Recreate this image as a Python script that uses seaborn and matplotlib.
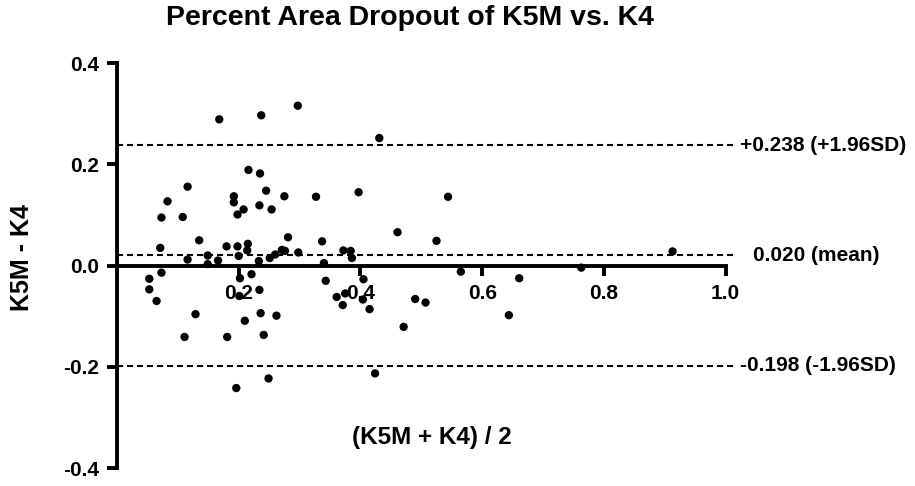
import numpy as np
import pandas as pd
import matplotlib
matplotlib.use("Agg")
import matplotlib.pyplot as plt
import seaborn as sns

# --- Daten ---
mean_k = [0.168, 0.237, 0.297, 0.216, 0.235, 0.116, 0.083, 0.073, 0.108, 0.192,
          0.192, 0.208, 0.198, 0.245, 0.234, 0.254, 0.275, 0.327, 0.135, 0.071,
          0.180, 0.198, 0.215, 0.214, 0.200, 0.281, 0.337, 0.251, 0.260, 0.271,
          0.276, 0.298, 0.116, 0.149, 0.149, 0.166, 0.233, 0.340, 0.053, 0.073,
          0.221, 0.202, 0.343, 0.053, 0.065, 0.234, 0.201, 0.129, 0.111, 0.181,
          0.210, 0.236, 0.262, 0.241, 0.249, 0.196, 0.431, 0.397, 0.544, 0.461,
          0.525, 0.372, 0.384, 0.386, 0.565, 0.661, 0.405, 0.361, 0.375, 0.371,
          0.404, 0.415, 0.490, 0.507, 0.471, 0.644, 0.424, 0.913, 0.763]
diff_k = [0.289, 0.297, 0.316, 0.189, 0.182, 0.156, 0.127, 0.095, 0.096, 0.137,
          0.125, 0.111, 0.101, 0.148, 0.119, 0.111, 0.137, 0.136, 0.050, 0.035,
          0.038, 0.038, 0.043, 0.030, 0.019, 0.056, 0.048, 0.015, 0.022, 0.031,
          0.029, 0.026, 0.012, 0.020, 0.003, 0.010, 0.009, 0.005, -0.026, -0.014,
          -0.017, -0.025, -0.030, -0.047, -0.070, -0.048, -0.060, -0.096, -0.141, -0.141,
          -0.109, -0.094, -0.099, -0.137, -0.223, -0.242, 0.252, 0.145, 0.136, 0.066,
          0.049, 0.030, 0.029, 0.015, -0.012, -0.025, -0.027, -0.062, -0.055, -0.078,
          -0.067, -0.086, -0.066, -0.073, -0.121, -0.098, -0.213, 0.028, -0.004]

limit_values = [0.238, 0.020, -0.198]
limit_labels = ["+0.238 (+1.96SD)", "0.020 (mean)", "-0.198 (-1.96SD)"]
x_ticks = [0.2, 0.4, 0.6, 0.8, 1.0]
y_ticks = [-0.4, -0.2, 0.0, 0.2, 0.4]

df = pd.DataFrame({"Mean": mean_k, "Diff": diff_k})

# --- Plot ---
sns.set_style("ticks", {"axes.edgecolor": "black", "text.color": "black",
                        "xtick.color": "black", "ytick.color": "black",
                        "axes.labelcolor": "black"})
plt.rcParams['font.family'] = ['Liberation Sans', 'DejaVu Sans']
plt.rcParams['font.weight'] = 'bold'

fig = plt.figure(figsize=(9.15, 4.86), dpi=100)
ax = fig.add_axes([0.1279, 0.037, 0.675, 0.833])

# Mittelwert und Limits of Agreement
for val in limit_values:
    ax.axhline(val, color='black', lw=1.5, linestyle=(0, (2.9, 1.9)), zorder=1)

sns.scatterplot(data=df, x="Mean", y="Diff", ax=ax, color='black', s=36,
                edgecolor='none', zorder=3, legend=False)

ax.set_xlim(0, 1.015)
ax.set_ylim(-0.4, 0.4)

# Achsen kreuzen sich bei (0, 0)
ax.spines['left'].set_position(('data', 0))
ax.spines['bottom'].set_position(('data', 0))
ax.spines['bottom'].set_bounds(0, 1.0)
ax.spines['top'].set_visible(False)
ax.spines['right'].set_visible(False)
for s in ['left', 'bottom']:
    ax.spines[s].set_linewidth(2.8)
    ax.spines[s].set_zorder(2)

ax.set_xticks(x_ticks)
ax.set_xticklabels([f"{t:.1f}" for t in x_ticks])
ax.set_yticks(y_ticks)
ax.set_yticklabels([f"{t:.1f}" for t in y_ticks])
ax.tick_params(axis='both', width=2.8, length=7, labelsize=15, direction='out',
               pad=6, colors='black')
for lab in ax.get_xticklabels() + ax.get_yticklabels():
    lab.set_fontweight('bold')

ax.set_xlabel("")
ax.set_ylabel("K5M - K4", fontsize=18, fontweight='bold', color='black')
ax.yaxis.set_label_coords(-0.135, 0.519)

ax.text(0.518, -0.34, "(K5M + K4) / 2", fontsize=17.5, fontweight='bold',
        ha='center', va='center', color='black')

for val, lab in zip(limit_values, limit_labels):
    xpos = 1.045 if lab.startswith("0.") else 1.023
    ax.text(xpos, val, lab, fontsize=15, fontweight='bold', ha='left',
            va='center', clip_on=False, color='black')

fig.suptitle("Percent Area Dropout of K5M vs. K4", fontsize=20.5, fontweight='bold',
             x=0.448, y=0.99, color='black')

plt.savefig("out.png", dpi=100)
